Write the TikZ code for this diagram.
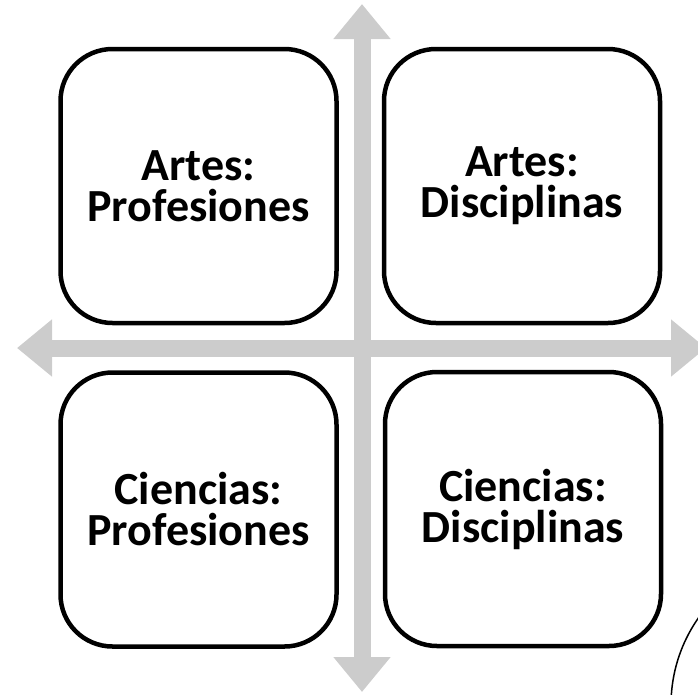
\documentclass[tikz,border=0pt]{standalone}
\usepackage{fontspec}
\setmainfont{Carlito}
\usetikzlibrary{arrows.meta}
\tikzset{
  quadrant/.style={draw=black, line width=4.5pt, rounded corners=52pt, fill=white,
    minimum width=276pt, minimum height=274pt, inner sep=0pt, align=center,
    font=\bfseries\fontsize{46}{41}\selectfont},
  axis/.style={draw=black!20, line width=17pt,
    {Triangle[width=55pt,length=35pt]}-{Triangle[width=55pt,length=35pt]}}
}
\begin{document}
\begin{tikzpicture}[x=1pt,y=-1pt]
    \useasboundingbox (0,0) rectangle (698,694);
    \clip (0,0) rectangle (698,694);
    % the two axes
    \coordinate (north) at (362,4);
    \coordinate (south) at (362,692);
    \coordinate (west) at (17,348);
    \coordinate (east) at (706,348);
    \draw[axis] (west) -- (east);
    \draw[axis] (north) -- (south);
    % four quadrants
    \node[quadrant] (artprof) at (198.5,186) {Artes:\\Profesiones};
    \node[quadrant] (artdisc) at (522,186) {Artes:\\Disciplinas};
    \node[quadrant] (cienprof) at (198.5,509.5) {Ciencias:\\Profesiones};
    \node[quadrant] (ciendisc) at (523,509) {Ciencias:\\Disciplinas};
    % cut-off circle in the corner
    \draw[line width=1.5pt] (823,705) circle[radius=152];
\end{tikzpicture}
\end{document}
